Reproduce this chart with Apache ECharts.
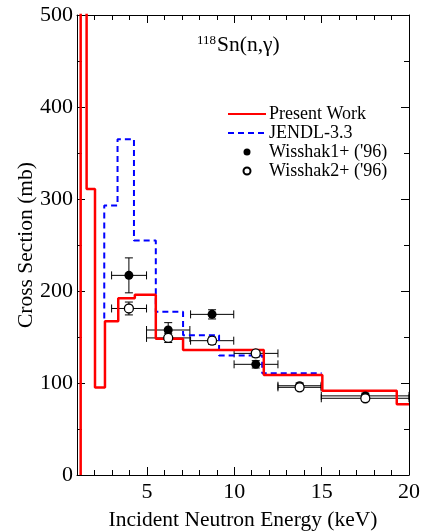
<!DOCTYPE html>
<html><head><meta charset="utf-8">
<script src="https://cdn.jsdelivr.net/npm/echarts@6/dist/echarts.min.js"></script>
<style>html,body{margin:0;padding:0;background:#fff}#c{width:425px;height:531px}</style>
</head><body><div id="c"></div>
<script>
// Present Work (red) group structure
var presentStart = [1.21, 0];
var presentEdges = [1.21, 1.55, 2.03, 2.6, 3.36, 4.31, 5.51, 7.07, 11.69, 15.04, 19.3, 20];
var presentVals  = [700, 311, 95, 167, 192, 196, 148, 136, 108.7, 91.6, 77];
// JENDL-3.3 (blue dashed)
var jendlStart = [2.56, 170];
var jendlEdges = [2.56, 3.32, 4.26, 5.51, 7.07, 9.13, 11.6, 15.0];
var jendlVals  = [293, 365, 255, 177.5, 152, 130, 110.5];
// Wisshak1+ ('96) filled
var w1x   = [3.97, 6.22, 8.73, 11.23, 13.74, 17.5];
var w1y   = [217, 157.6, 174.6, 120.3, 97, 86];
var w1xlo = [2.98, 4.98, 7.5, 9.99, 12.5, 14.98];
var w1xhi = [4.98, 7.46, 9.97, 12.5, 14.97, 20];
var w1err = [19, 8, 5, 4, 3, 3];
// Wisshak2+ ('96) open
var w2x   = [3.97, 6.22, 8.73, 11.23, 13.74, 17.5];
var w2y   = [181, 149, 146, 132.2, 95.3, 83.4];
var w2xlo = [2.98, 4.98, 7.5, 9.99, 12.5, 14.98];
var w2xhi = [4.98, 7.46, 9.97, 12.5, 14.97, 20];
var w2err = [7, 5, 4, 4, 3, 3];
var xMajor = [5, 10, 15, 20];

function steps(start, edges, vals) {
  var pts = [start.slice()];
  for (var i = 0; i < vals.length; i++) {
    pts.push([edges[i], vals[i]]);
    pts.push([edges[i + 1], vals[i]]);
  }
  return pts;
}
function errData(x, y, xlo, xhi, e) {
  return x.map(function (v, i) { return [v, y[i], xlo[i], xhi[i], y[i] - e[i], y[i] + e[i]]; });
}
var F = 'Liberation Serif';
function errRender(params, api) {
  var c = api.coord([api.value(0), api.value(1)]);
  var l = api.coord([api.value(2), api.value(1)]);
  var r = api.coord([api.value(3), api.value(1)]);
  var lo = api.coord([api.value(0), api.value(4)]);
  var hi = api.coord([api.value(0), api.value(5)]);
  var st = { stroke: '#000', lineWidth: 1 };
  var cap = 4;
  return { type: 'group', children: [
    { type: 'line', shape: { x1: l[0], y1: c[1], x2: r[0], y2: c[1] }, style: st },
    { type: 'line', shape: { x1: l[0], y1: c[1] - cap, x2: l[0], y2: c[1] + cap }, style: st },
    { type: 'line', shape: { x1: r[0], y1: c[1] - cap, x2: r[0], y2: c[1] + cap }, style: st },
    { type: 'line', shape: { x1: c[0], y1: lo[1], x2: c[0], y2: hi[1] }, style: st },
    { type: 'line', shape: { x1: c[0] - cap, y1: lo[1], x2: c[0] + cap, y2: lo[1] }, style: st },
    { type: 'line', shape: { x1: c[0] - cap, y1: hi[1], x2: c[0] + cap, y2: hi[1] }, style: st }
  ]};
}
var axLine = { show: true, lineStyle: { color: '#000', width: 1 } };
function xAx(pos, major, labels) {
  var a = { type: 'value', min: 1, max: 20, position: pos, splitLine: { show: false },
    axisLine: major ? axLine : { show: false } };
  if (major) {
    a.axisTick = { inside: true, length: 8, customValues: xMajor, lineStyle: { color: '#000' } };
    a.axisLabel = labels ? { customValues: xMajor, fontFamily: F, fontSize: 22, color: '#000', margin: 6 } : { show: false };
  } else {
    a.interval = 1;
    a.axisTick = { inside: true, length: 5, lineStyle: { color: '#000' } };
    a.axisLabel = { show: false };
  }
  if (labels) {
    a.name = 'Incident Neutron Energy (keV)';
    a.nameLocation = 'middle'; a.nameGap = 34; a.nameMoveOverlap = false;
    a.nameTextStyle = { fontFamily: F, fontSize: 21.5, color: '#000' };
  }
  return a;
}
function yAx(pos, labels) {
  var a = { type: 'value', min: 0, max: 500, interval: 100, position: pos, splitLine: { show: false },
    axisLine: axLine,
    axisTick: { inside: true, length: 8, lineStyle: { color: '#000' } },
    minorTick: { show: true, splitNumber: 2, length: 5, lineStyle: { color: '#000' } },
    axisLabel: labels ? { fontFamily: F, fontSize: 22, color: '#000', margin: 4 } : { show: false } };
  if (labels) {
    a.name = 'Cross Section (mb)'; a.nameLocation = 'middle'; a.nameGap = 40; a.nameRotate = 90;
    a.nameMoveOverlap = false;
    a.nameTextStyle = { fontFamily: F, fontSize: 21.5, color: '#000' };
  }
  return a;
}
var chart = echarts.init(document.getElementById('c'), null, { renderer: 'canvas' });
chart.setOption({
  animation: false,
  backgroundColor: '#fff',
  grid: { left: 77, right: 16, top: 15, bottom: 56, containLabel: false, outerBoundsMode: 'none' },
  title: { text: '{a|118}{b|Sn(n,γ)}', left: 192, top: 29,
    textStyle: { fontWeight: 'normal',
      rich: { a: { fontFamily: F, fontSize: 13, fontWeight: 'normal', color: '#000', verticalAlign: 'top', padding: [0, 1, 0, 0] },
              b: { fontFamily: F, fontSize: 21.5, fontWeight: 'normal', color: '#000' } } } },
  legend: { orient: 'vertical', left: 222, top: 100, itemWidth: 38, itemHeight: 7, itemGap: 1,
    textStyle: { fontFamily: F, fontSize: 18, color: '#000', padding: [0, 0, 0, -2] },
    data: [
      { name: 'Present Work', itemStyle: { opacity: 0 } },
      { name: 'JENDL-3.3', itemStyle: { opacity: 0 } },
      { name: "Wisshak1+ ('96)" },
      { name: "Wisshak2+ ('96)" }
    ] },
  xAxis: [xAx('bottom', true, true), xAx('bottom', false, false), xAx('top', true, false), xAx('top', false, false)],
  yAxis: [yAx('left', true), yAx('right', false)],
  series: [
    { name: 'JENDL-3.3', type: 'line', data: steps(jendlStart, jendlEdges, jendlVals), symbol: 'none',
      clip: true, lineStyle: { color: '#0000ff', width: 2, type: [6, 4] }, itemStyle: { color: '#0000ff' } },
    { name: 'Present Work', type: 'line', data: steps(presentStart, presentEdges, presentVals), symbol: 'none',
      clip: true, lineStyle: { color: '#ff0000', width: 2.5 }, itemStyle: { color: '#ff0000' } },
    { name: 'err1', type: 'custom', renderItem: errRender, data: errData(w1x, w1y, w1xlo, w1xhi, w1err), z: 3 },
    { name: 'err2', type: 'custom', renderItem: errRender, data: errData(w2x, w2y, w2xlo, w2xhi, w2err), z: 3 },
    { name: "Wisshak1+ ('96)", type: 'scatter', symbol: 'circle', symbolSize: 9, z: 4,
      data: w1x.map(function (v, i) { return [v, w1y[i]]; }), itemStyle: { color: '#000', opacity: 1 } },
    { name: "Wisshak2+ ('96)", type: 'scatter', symbol: 'circle', symbolSize: 9, z: 5,
      data: w2x.map(function (v, i) { return [v, w2y[i]]; }),
      itemStyle: { color: '#fff', borderColor: '#000', borderWidth: 1.3, opacity: 1 } }
  ]
});
</script></body></html>
